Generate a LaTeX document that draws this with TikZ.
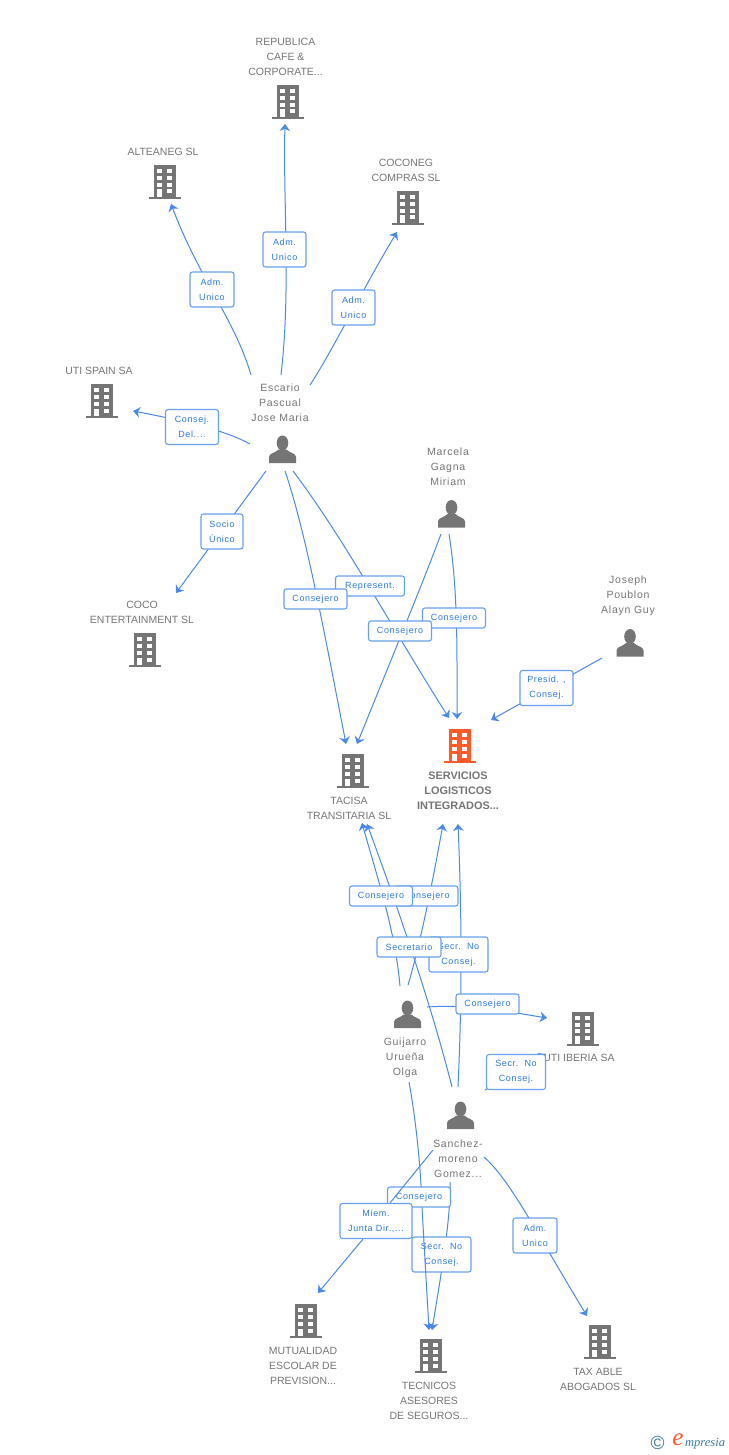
\documentclass[tikz,border=0pt]{standalone}
\usepackage{fontspec}
\usetikzlibrary{arrows.meta}
\usetikzlibrary{backgrounds}
\setmainfont{Liberation Sans}
\newfontfamily\personfont[LetterSpace=7]{Liberation Sans}
\newfontfamily\linkfont[LetterSpace=7]{Liberation Sans}
\newfontfamily\logofont{Liberation Serif}
\definecolor{icon-gray}{RGB}{117, 117, 117}
\definecolor{icon-orange}{RGB}{255, 90, 42}
\definecolor{link-blue}{RGB}{74, 138, 230}
\definecolor{box-blue}{RGB}{104, 160, 236}
\definecolor{label-blue}{RGB}{46, 122, 230}
\definecolor{logo-teal}{RGB}{58, 122, 150}
\tikzset{
  pics/building/.style={code={
    \fill[#1] (-11, -17) rectangle (11, 15);
    \fill[#1] (-16, 15) rectangle (16, 17);
    \foreach \r in {-12.7, -6, 0.8} {
      \fill[white] (-8, \r) rectangle (-3, \r+4);
      \fill[white] (2, \r) rectangle (7, \r+4);
    }
    \fill[white] (-8, 7.5) rectangle (-3, 15);
    \fill[white] (2, 7.5) rectangle (7, 11.5);
  }},
  pics/person/.style={code={
    \fill[icon-gray] (0, -6.5) ellipse (5.8 and 7.5);
    \fill[icon-gray] (-13.5, 13.5) -- (-13.5, 7.5) .. controls (-13.5, 3.5) and (-7, 3.5) .. (-4, 0)
      -- (4, 0) .. controls (7, 3.5) and (13.5, 3.5) .. (13.5, 7.5) -- (13.5, 13.5) -- cycle;
  }},
  company/.style={text=icon-gray, align=center, inner sep=0pt, font=\fontsize{10.5}{15}\selectfont},
  individual/.style={text=icon-gray, align=center, inner sep=0pt, font=\fontsize{10.5}{15}\personfont},
  linkbox/.style={draw=box-blue, line width=1.1pt, fill=white, rounded corners=2.5pt, text=label-blue,
    align=center, inner sep=0pt, minimum height=#1, font=\fontsize{9}{15}\linkfont},
  link/.style={draw=link-blue, line width=1pt, -{Stealth[length=7pt, width=10.5pt, inset=2.2pt]}},
  linkplain/.style={draw=link-blue, line width=1pt}
}
\begin{document}
\begin{tikzpicture}[x=1pt, y=-1pt]
  \useasboundingbox (0, 0) rectangle (728, 1455);

  \pic at (288, 102) {building=icon-gray};
  \pic at (165, 182) {building=icon-gray};
  \pic at (408, 208) {building=icon-gray};
  \pic at (102, 401) {building=icon-gray};
  \pic at (145, 650) {building=icon-gray};
  \pic at (352.5, 771) {building=icon-gray};
  \pic at (460, 746) {building=icon-orange};
  \pic at (583, 1028.5) {building=icon-gray};
  \pic at (306, 1321) {building=icon-gray};
  \pic at (431, 1356) {building=icon-gray};
  \pic at (600, 1342) {building=icon-gray};

  \pic at (282.5, 449.5) {person};
  \pic at (451.5, 514) {person};
  \pic at (630, 643) {person};
  \pic at (407.5, 1014.5) {person};
  \pic at (460.5, 1115.5) {person};

  \node[company] (txt_republica) at (285.5, 56.5) {REPUBLICA\\CAFE \&\\CORPORATE...};
  \node[company] (txt_alteaneg) at (163, 151.5) {ALTEANEG SL};
  \node[company] (txt_coconeg) at (406, 170) {COCONEG\\COMPRAS SL};
  \node[company] (txt_utispain) at (99, 370.5) {UTI SPAIN SA};
  \node[company] (txt_coco) at (142, 612) {COCO\\ENTERTAINMENT SL};
  \node[company] (txt_tacisa) at (349, 808) {TACISA\\TRANSITARIA SL};
  \node[company, font=\fontsize{10.9}{15}\selectfont\bfseries] (txt_servicios) at (458, 790.5) {SERVICIOS\\LOGISTICOS\\INTEGRADOS...};
  \node[company] (txt_utiiberia) at (579, 1057.5) {UTI IBERIA SA};
  \node[company] (txt_mutualidad) at (303, 1365.5) {MUTUALIDAD\\ESCOLAR DE\\PREVISION...};
  \node[company] (txt_tecnicos) at (429, 1400.5) {TECNICOS\\ASESORES\\DE SEGUROS...};
  \node[company] (txt_taxable) at (598, 1379) {TAX ABLE\\ABOGADOS SL};

  \node[individual] (txt_escario) at (280, 402.5) {Escario\\Pascual\\Jose Maria};
  \node[individual] (txt_marcela) at (448, 466.5) {Marcela\\Gagna\\Miriam};
  \node[individual] (txt_joseph) at (628, 595.5) {Joseph\\Poublon\\Alayn Guy};
  \node[individual] (txt_guijarro) at (405, 1057.5) {Guijarro\\Urueña\\Olga};
  \node[individual] (txt_sanchez) at (458, 1158.5) {Sanchez-\\moreno\\Gomez...};

  \coordinate (esc_republica) at (281, 375);
  \coordinate (esc_alteaneg) at (251, 375);
  \coordinate (esc_coconeg) at (310, 385);
  \coordinate (esc_utispain) at (250, 444);
  \coordinate (esc_coco) at (266, 471);
  \coordinate (esc_tacisa) at (285, 471);
  \coordinate (esc_servicios) at (293, 471);
  \coordinate (mar_tacisa) at (441, 534);
  \coordinate (mar_servicios) at (449, 534);
  \coordinate (jos_servicios) at (602, 658);
  \coordinate (gui_tacisa) at (400, 986);
  \coordinate (gui_servicios) at (408, 985);
  \coordinate (gui_utiiberia) at (427, 1007);
  \coordinate (gui_tecnicos) at (409, 1082);
  \coordinate (san_tacisa) at (452, 1087);
  \coordinate (san_servicios) at (458, 1087);
  \coordinate (san_utiiberia) at (485, 1090);
  \coordinate (san_mutualidad) at (433, 1150);
  \coordinate (san_tecnicos) at (450, 1182);
  \coordinate (san_taxable) at (484, 1157);

  \coordinate (republica_in) at (285, 124);
  \coordinate (alteaneg_in) at (171, 204);
  \coordinate (coconeg_in) at (397, 232);
  \coordinate (utispain_in) at (133, 411);
  \coordinate (coco_in) at (176, 593);
  \coordinate (tacisa_in_a) at (346, 744);
  \coordinate (tacisa_in_b) at (357, 744);
  \coordinate (servicios_in_a) at (449, 718);
  \coordinate (servicios_in_b) at (457, 719);
  \coordinate (servicios_in_c) at (491, 720);
  \coordinate (tacisa_in_c) at (362, 823);
  \coordinate (tacisa_in_d) at (367, 824);
  \coordinate (servicios_in_d) at (443, 824);
  \coordinate (servicios_in_e) at (458, 824);
  \coordinate (utiiberia_in_a) at (547, 1018);
  \coordinate (utiiberia_in_b) at (546, 1054);
  \coordinate (mutualidad_in) at (318, 1293);
  \coordinate (tecnicos_in_a) at (429, 1330);
  \coordinate (tecnicos_in_b) at (432, 1330);
  \coordinate (taxable_in) at (587, 1316);

  \node[linkbox=35pt, minimum width=43pt] (lbl_republica) at (284.5, 249.5) {Adm.\\Unico};
  \node[linkbox=35pt, minimum width=44pt] (lbl_alteaneg) at (212, 289.5) {Adm.\\Unico};
  \node[linkbox=35pt, minimum width=43pt] (lbl_coconeg) at (353.5, 307.5) {Adm.\\Unico};
  \node[linkbox=35pt, minimum width=53pt] (lbl_utispain) at (192, 427) {Consej.\\Del....};
  \node[linkbox=35pt, minimum width=42pt] (lbl_coco) at (222, 531.5) {Socio\\Único};
  \node[linkbox=20pt, minimum width=69pt] (lbl_represent) at (370, 586) {Represent.};
  \node[linkbox=20pt, minimum width=63pt] (lbl_esctacisa) at (315.5, 599) {Consejero};
  \node[linkbox=20pt, minimum width=63pt] (lbl_marservicios) at (454, 618) {Consejero};
  \node[linkbox=20pt, minimum width=63pt] (lbl_martacisa) at (400, 631) {Consejero};
  \node[linkbox=35pt, minimum width=53pt] (lbl_joseph) at (546.5, 688) {Presid. ,\\Consej.};
  \node[linkbox=20pt, minimum width=63pt] (lbl_guiservicios) at (426.5, 896) {Consejero};
  \node[linkbox=20pt, minimum width=63pt] (lbl_guitacisa) at (381, 896) {Consejero};
  \node[linkbox=35pt, minimum width=59pt] (lbl_sanservicios) at (458.5, 954.5) {Secr.\ \ No\\Consej.};
  \node[linkbox=20pt, minimum width=64pt] (lbl_sectacisa) at (409, 947) {Secretario};
  \node[linkbox=20pt, minimum width=63pt] (lbl_guiuti) at (487.5, 1004) {Consejero};
  \node[linkbox=35pt, minimum width=59pt] (lbl_sanuti) at (516, 1072) {Secr.\ \ No\\Consej.};
  \node[linkbox=35pt, minimum width=59pt] (lbl_santecnicos) at (441.5, 1254.5) {Secr.\ \ No\\Consej.};
  \node[linkbox=20pt, minimum width=63pt] (lbl_guitecnicos) at (419, 1197) {Consejero};
  \node[linkbox=35pt, minimum width=72pt] (lbl_miembro) at (376, 1221) {Miem.\\Junta Dir.,...};
  \node[linkbox=35pt, minimum width=44pt] (lbl_taxable) at (535, 1235.5) {Adm.\\Unico};

  \begin{scope}[on background layer]
    \draw[link] (esc_republica) .. controls (291, 290) and (283, 200) .. (republica_in);
    \draw[link] (esc_alteaneg) .. controls (235, 320) and (200, 280) .. (alteaneg_in);
    \draw[link] (esc_coconeg) .. controls (330, 355) and (365, 285) .. (coconeg_in);
    \draw[link] (esc_utispain) .. controls (225, 430) and (180, 420) .. (utispain_in);
    \draw[link] (esc_coco) -- (coco_in);
    \draw[link] (esc_tacisa) .. controls (305, 530) and (322, 620) .. (tacisa_in_a);
    \draw[link] (esc_servicios) .. controls (345, 540) and (390, 625) .. (servicios_in_a);
    \draw[link] (mar_tacisa) .. controls (420, 590) and (395, 650) .. (tacisa_in_b);
    \draw[link] (mar_servicios) .. controls (458, 590) and (457, 650) .. (servicios_in_b);
    \draw[link] (jos_servicios) -- (servicios_in_c);
    \draw[link] (gui_tacisa) .. controls (395, 930) and (378, 880) .. (tacisa_in_c);
    \draw[link] (gui_servicios) .. controls (420, 945) and (433, 880) .. (servicios_in_d);
    \draw[link] (san_tacisa) .. controls (430, 1000) and (395, 900) .. (tacisa_in_d);
    \draw[link] (san_servicios) .. controls (462, 1000) and (462, 920) .. (servicios_in_e);
    \draw[link] (gui_utiiberia) .. controls (470, 1004) and (510, 1012) .. (utiiberia_in_a);
    \draw[link] (san_utiiberia) -- (utiiberia_in_b);
    \draw[linkplain] (gui_tecnicos) .. controls (416, 1120) and (421, 1170) .. ([xshift=3pt]lbl_guitecnicos.south);
    \draw[link] (san_tecnicos) .. controls (451, 1220) and (440, 1280) .. (tecnicos_in_b);
    \draw[link] ([xshift=-13pt]lbl_miembro.south) -- (mutualidad_in);
    \draw[link] (san_taxable) .. controls (510, 1180) and (535, 1230) .. (taxable_in);
  \end{scope}

  \draw[link] ([xshift=3pt]lbl_guitecnicos.south) -- (tecnicos_in_a);
  \draw[linkplain] (san_mutualidad) -- ([xshift=14pt]lbl_miembro.north);

  \node[text=logo-teal, inner sep=0pt, font=\fontsize{19}{19}\selectfont] (logo_copy) at (657.5, 1443) {©};
  \node[text=icon-orange, inner sep=0pt, font=\fontsize{25}{25}\logofont\itshape] (logo_e) at (678, 1440) {e};
  \node[text=logo-teal, inner sep=0pt, anchor=west, font=\fontsize{12.5}{12}\logofont\itshape] (logo_name) at (685, 1444) {mpresia};
\end{tikzpicture}
\end{document}
